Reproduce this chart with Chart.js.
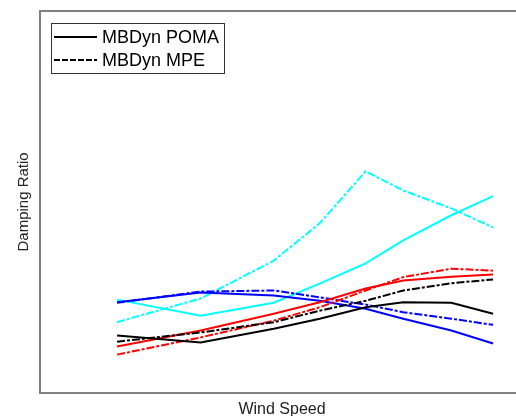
<!DOCTYPE html>
<html>
<head>
<meta charset="utf-8">
<script src="https://cdn.jsdelivr.net/npm/chart.js@4/dist/chart.umd.min.js"></script>
<style>
  html, body { margin: 0; padding: 0; overflow: hidden; background: #fff; }
  #wrap { width: 530px; height: 424px; }
</style>
</head>
<body>
<div id="wrap"><canvas id="myChart"></canvas></div>
<script>
// wind speeds
var windSpeed = [6, 10, 13.5, 15.7, 17.9, 19.7, 22, 24];

// damping ratios per case
var blackPoma = [0.0150, 0.0132, 0.0168, 0.0194, 0.0224, 0.0237, 0.0236, 0.0207];
var blackMpe  = [0.0134, 0.0158, 0.0185, 0.0215, 0.0241, 0.0268, 0.0287, 0.0297];
var redPoma   = [0.0121, 0.0163, 0.0207, 0.0237, 0.0273, 0.0294, 0.0304, 0.0310];
var redMpe    = [0.0100, 0.0145, 0.0189, 0.0224, 0.0268, 0.0303, 0.0325, 0.0320];
var bluePoma  = [0.0237, 0.0263, 0.0255, 0.0241, 0.0220, 0.0194, 0.0163, 0.0129];
var blueMpe   = [0.0236, 0.0265, 0.0268, 0.0250, 0.0231, 0.0211, 0.0194, 0.0178];
var cyanPoma  = [0.0244, 0.0202, 0.0236, 0.0286, 0.0339, 0.0399, 0.0465, 0.0515];
var cyanMpe   = [0.0185, 0.0247, 0.0346, 0.0444, 0.0580, 0.0530, 0.0483, 0.0433];

var legendLabels = ['MBDyn POMA', 'MBDyn MPE'];
var dashDot = [8, 2, 3, 2];

function pts(vals) {
    return vals.map(function (v, i) { return { x: windSpeed[i], y: v }; });
}

function serie(vals, color, dashed, label) {
    return {
        label: label || '',
        data: pts(vals),
        borderColor: color,
        backgroundColor: color,
        borderWidth: 2,
        borderDash: dashed ? dashDot : [],
        pointRadius: 0,
        tension: 0,
        fill: false
    };
}

// little boxed legend in the top-left corner, like the original
var boxLegend = {
    id: 'boxLegend',
    afterDraw: function (chart) {
        var ctx = chart.ctx;
        var items = chart.data.datasets.filter(function (d) { return d.label; });
        var x0 = 51, y0 = 23, w = 173, h = 50;
        ctx.save();
        ctx.fillStyle = '#fff';
        ctx.fillRect(x0, y0, w, h);
        ctx.strokeStyle = '#333';
        ctx.lineWidth = 1;
        ctx.strokeRect(x0 + 0.5, y0 + 0.5, w, h);
        ctx.font = '18px "Liberation Sans", Arial, sans-serif';
        ctx.textBaseline = 'middle';
        items.forEach(function (d, i) {
            var yy = y0 + 14 + i * 23;
            ctx.strokeStyle = d.borderColor;
            ctx.lineWidth = 2;
            ctx.setLineDash(d.borderDash.length ? [6, 2] : []);
            ctx.beginPath();
            ctx.moveTo(x0 + 3, yy);
            ctx.lineTo(x0 + 46, yy);
            ctx.stroke();
            ctx.setLineDash([]);
            ctx.fillStyle = '#000';
            ctx.fillText(d.label, x0 + 51, yy + 1);
        });
        ctx.restore();
    }
};

var frameColor = '#808080';
var fontFam = '"Liberation Sans", Arial, sans-serif';
var noGrid = { display: false, drawTicks: false };

var ctx = document.getElementById('myChart').getContext('2d');
var chart = new Chart(ctx, {
    type: 'line',
    data: {
        datasets: [
            serie(blackPoma, '#000000', false, legendLabels[0]),
            serie(blackMpe, '#000000', true, legendLabels[1]),
            serie(redPoma, '#ff0000', false),
            serie(redMpe, '#ff0000', true),
            serie(bluePoma, '#0000ff', false),
            serie(blueMpe, '#0000ff', true),
            serie(cyanPoma, '#00ffff', false),
            serie(cyanMpe, '#00ffff', true)
        ]
    },
    options: {
        responsive: true,
        maintainAspectRatio: false,
        animation: false,
        layout: { padding: { top: 11, right: 6, left: 0, bottom: 0 } },
        plugins: {
            legend: { display: false },
            tooltip: { enabled: false }
        },
        scales: {
            x: {
                type: 'linear',
                min: 2.31,
                max: 25.48,
                grid: noGrid,
                border: { display: true, color: frameColor, width: 2 },
                ticks: { display: false },
                title: {
                    display: true,
                    text: 'Wind Speed',
                    color: '#222',
                    font: { family: fontFam, size: 16 },
                    padding: { top: 7, bottom: 5 }
                }
            },
            x2: {
                type: 'linear',
                position: 'top',
                grid: noGrid,
                border: { display: true, color: frameColor, width: 2 },
                ticks: { display: false }
            },
            y: {
                min: 0,
                max: 0.1,
                grid: noGrid,
                border: { display: true, color: frameColor, width: 2 },
                ticks: { display: false },
                title: {
                    display: true,
                    text: 'Damping Ratio',
                    color: '#222',
                    font: { family: fontFam, size: 15 },
                    padding: { top: 15, bottom: 7 }
                }
            },
            y2: {
                position: 'right',
                grid: noGrid,
                border: { display: true, color: frameColor, width: 2 },
                ticks: { display: false }
            }
        }
    },
    plugins: [boxLegend]
});
</script>
</body>
</html>
